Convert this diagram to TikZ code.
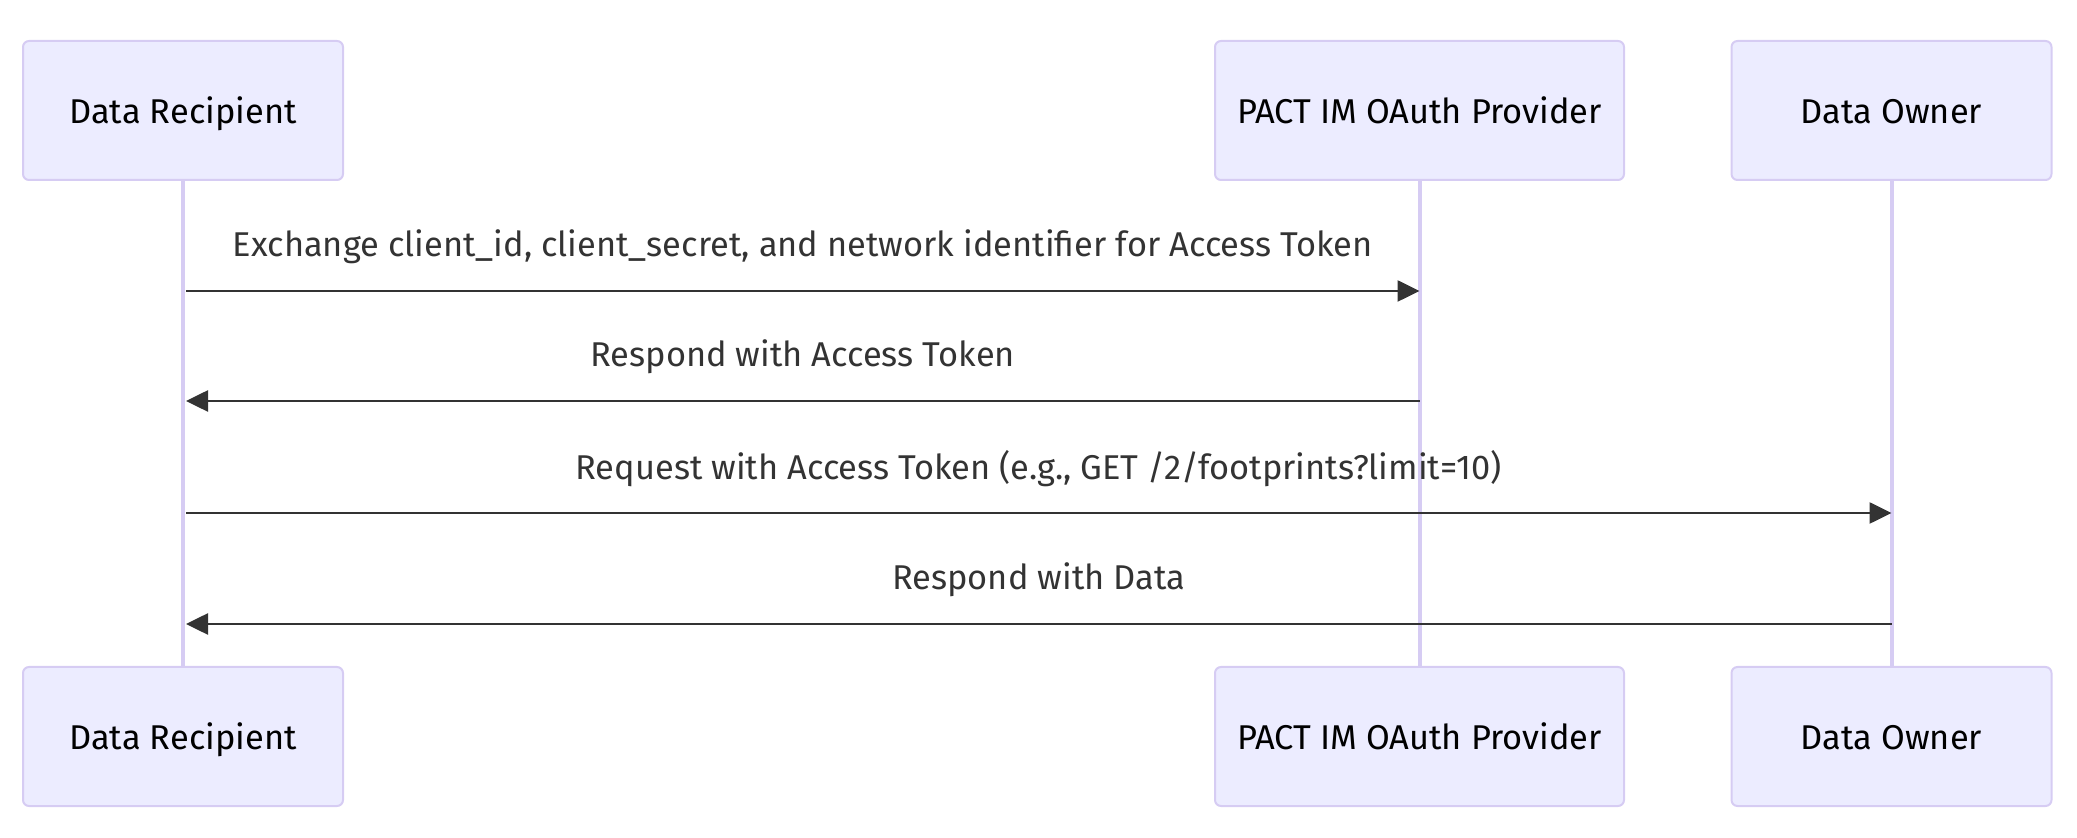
\documentclass[tikz,border=0pt]{standalone}
\usepackage{fontspec}
\setmainfont{Fira Sans}
\usepackage{tikz}
\usetikzlibrary{arrows.meta,positioning}
\definecolor{actorfill}{HTML}{ECECFF}
\definecolor{actorline}{HTML}{D6CCF3}
\definecolor{msgline}{HTML}{333333}
\begin{document}
\begin{tikzpicture}[
        x=0.5pt, y=-0.5pt,
        font=\fontsize{17.2pt}{20pt}\selectfont,
        actor/.style={
            rectangle,
            draw=actorline,
            line width=1pt,
            fill=actorfill,
            rounded corners=3pt,
            minimum width=160pt,
            minimum height=69.5pt,
            text height=15pt,
            text depth=2pt,
            text=black
        },
        lifeline/.style={
            draw=actorline,
            line width=2pt
        },
        msg/.style={
            draw=msgline,
            line width=1.3pt,
            -{Triangle[length=11pt,width=10.5pt]}
        },
        msglabel/.style={
            text=msgline,
            yshift=22pt
        }
    ]
    \useasboundingbox (0,0) rectangle (2077,838);

    % Actors
    \node [actor] (recTop) at (183,110.5) {Data Recipient};
    \node [actor, minimum width=204.5pt] (provTop) at (1419.5,110.5) {PACT IM OAuth Provider};
    \node [actor] (ownTop) at (1891.5,110.5) {Data Owner};

    \node [actor] (recBot) at (183,736.5) {Data Recipient};
    \node [actor, minimum width=204.5pt] (provBot) at (1419.5,736.5) {PACT IM OAuth Provider};
    \node [actor] (ownBot) at (1891.5,736.5) {Data Owner};

    % Lifelines
    \path [lifeline] (recTop) -- (recBot);
    \path [lifeline] (provTop) -- (provBot);
    \path [lifeline] (ownTop) -- (ownBot);

    % Message rows
    \coordinate (row1) at (0,291);
    \coordinate (row2) at (0,401);
    \coordinate (row3) at (0,513);
    \coordinate (row4) at (0,624);

    % Messages
    \path [msg] ([xshift=1.5pt]recTop |- row1) -- node [msglabel] {Exchange client\_id, client\_secret, and network identifier for Access Token} (provTop |- row1);
    \path [msg] (provTop |- row2) -- node [msglabel] {Respond with Access Token} ([xshift=1.5pt]recTop |- row2);
    \path [msg] ([xshift=1.5pt]recTop |- row3) -- node [msglabel] {Request with Access Token (e.g., GET /2/footprints?limit=10)} (ownTop |- row3);
    \path [msg] (ownTop |- row4) -- node [msglabel] {Respond with Data} ([xshift=1.5pt]recTop |- row4);

\end{tikzpicture}
\end{document}
